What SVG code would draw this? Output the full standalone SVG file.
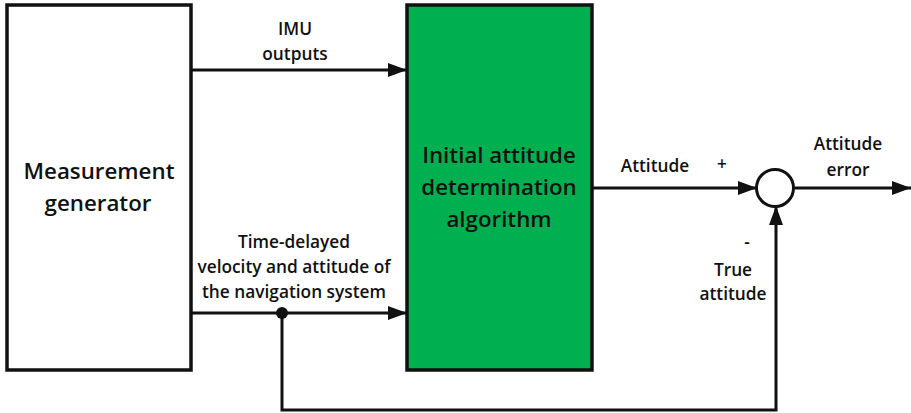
<svg xmlns="http://www.w3.org/2000/svg" width="911" height="413" viewBox="0 0 911 413">
<defs>
<marker id="arr" markerWidth="20" markerHeight="14" refX="19" refY="7" orient="auto" markerUnits="userSpaceOnUse">
<path d="M0,0 L19,7 L0,14 Z" fill="#111"/>
</marker>
<style>
.box{stroke:#111;stroke-width:3.5}
.ln{fill:none;stroke:#111;stroke-width:3}
.t{font-family:"Open Sans","Liberation Sans",sans-serif;font-weight:600;fill:#111;text-anchor:middle}
.s{font-size:17.3px}
.b{font-size:22.3px}
</style>
</defs>
<rect width="911" height="413" fill="#fff"/>
<g id="measurement-generator">
<rect class="box" x="7" y="5" width="184" height="365" fill="#fff"/>
<text class="t b" x="99" y="179">Measurement</text>
<text class="t b" x="98" y="211">generator</text>
</g>
<g id="algorithm">
<rect class="box" x="407" y="5" width="185" height="365" fill="#00b050"/>
<text class="t b" x="499" y="163">Initial attitude</text>
<text class="t b" x="499" y="195">determination</text>
<text class="t b" x="499" y="227">algorithm</text>
</g>
<g id="sum">
<circle cx="775" cy="188" r="18.5" fill="#fff" stroke="#111" stroke-width="3"/>
</g>
<g id="connectors">
<line class="ln" x1="191" y1="70" x2="407" y2="70" marker-end="url(#arr)"/>
<line class="ln" x1="191" y1="313" x2="407" y2="313" marker-end="url(#arr)"/>
<line class="ln" x1="592" y1="188" x2="757" y2="188" marker-end="url(#arr)"/>
<line class="ln" x1="793" y1="188" x2="911" y2="188" marker-end="url(#arr)"/>
<path class="ln" d="M282,313 V410 H776 V206" marker-end="url(#arr)"/>
<circle cx="282" cy="313" r="6" fill="#111"/>
</g>
<g id="labels">
<text class="t s" x="295" y="35">IMU</text>
<text class="t s" x="295" y="60">outputs</text>
<text class="t s" x="294" y="248">Time-delayed</text>
<text class="t s" x="294" y="273">velocity and attitude of</text>
<text class="t s" x="294" y="298">the navigation system</text>
<text class="t s" x="655" y="172">Attitude</text>
<text class="t s" x="722" y="170">+</text>
<text class="t s" x="848" y="150">Attitude</text>
<text class="t s" x="848" y="176">error</text>
<text class="t s" x="747" y="248">-</text>
<text class="t s" x="733" y="276">True</text>
<text class="t s" x="733" y="300">attitude</text>
</g>
</svg>
